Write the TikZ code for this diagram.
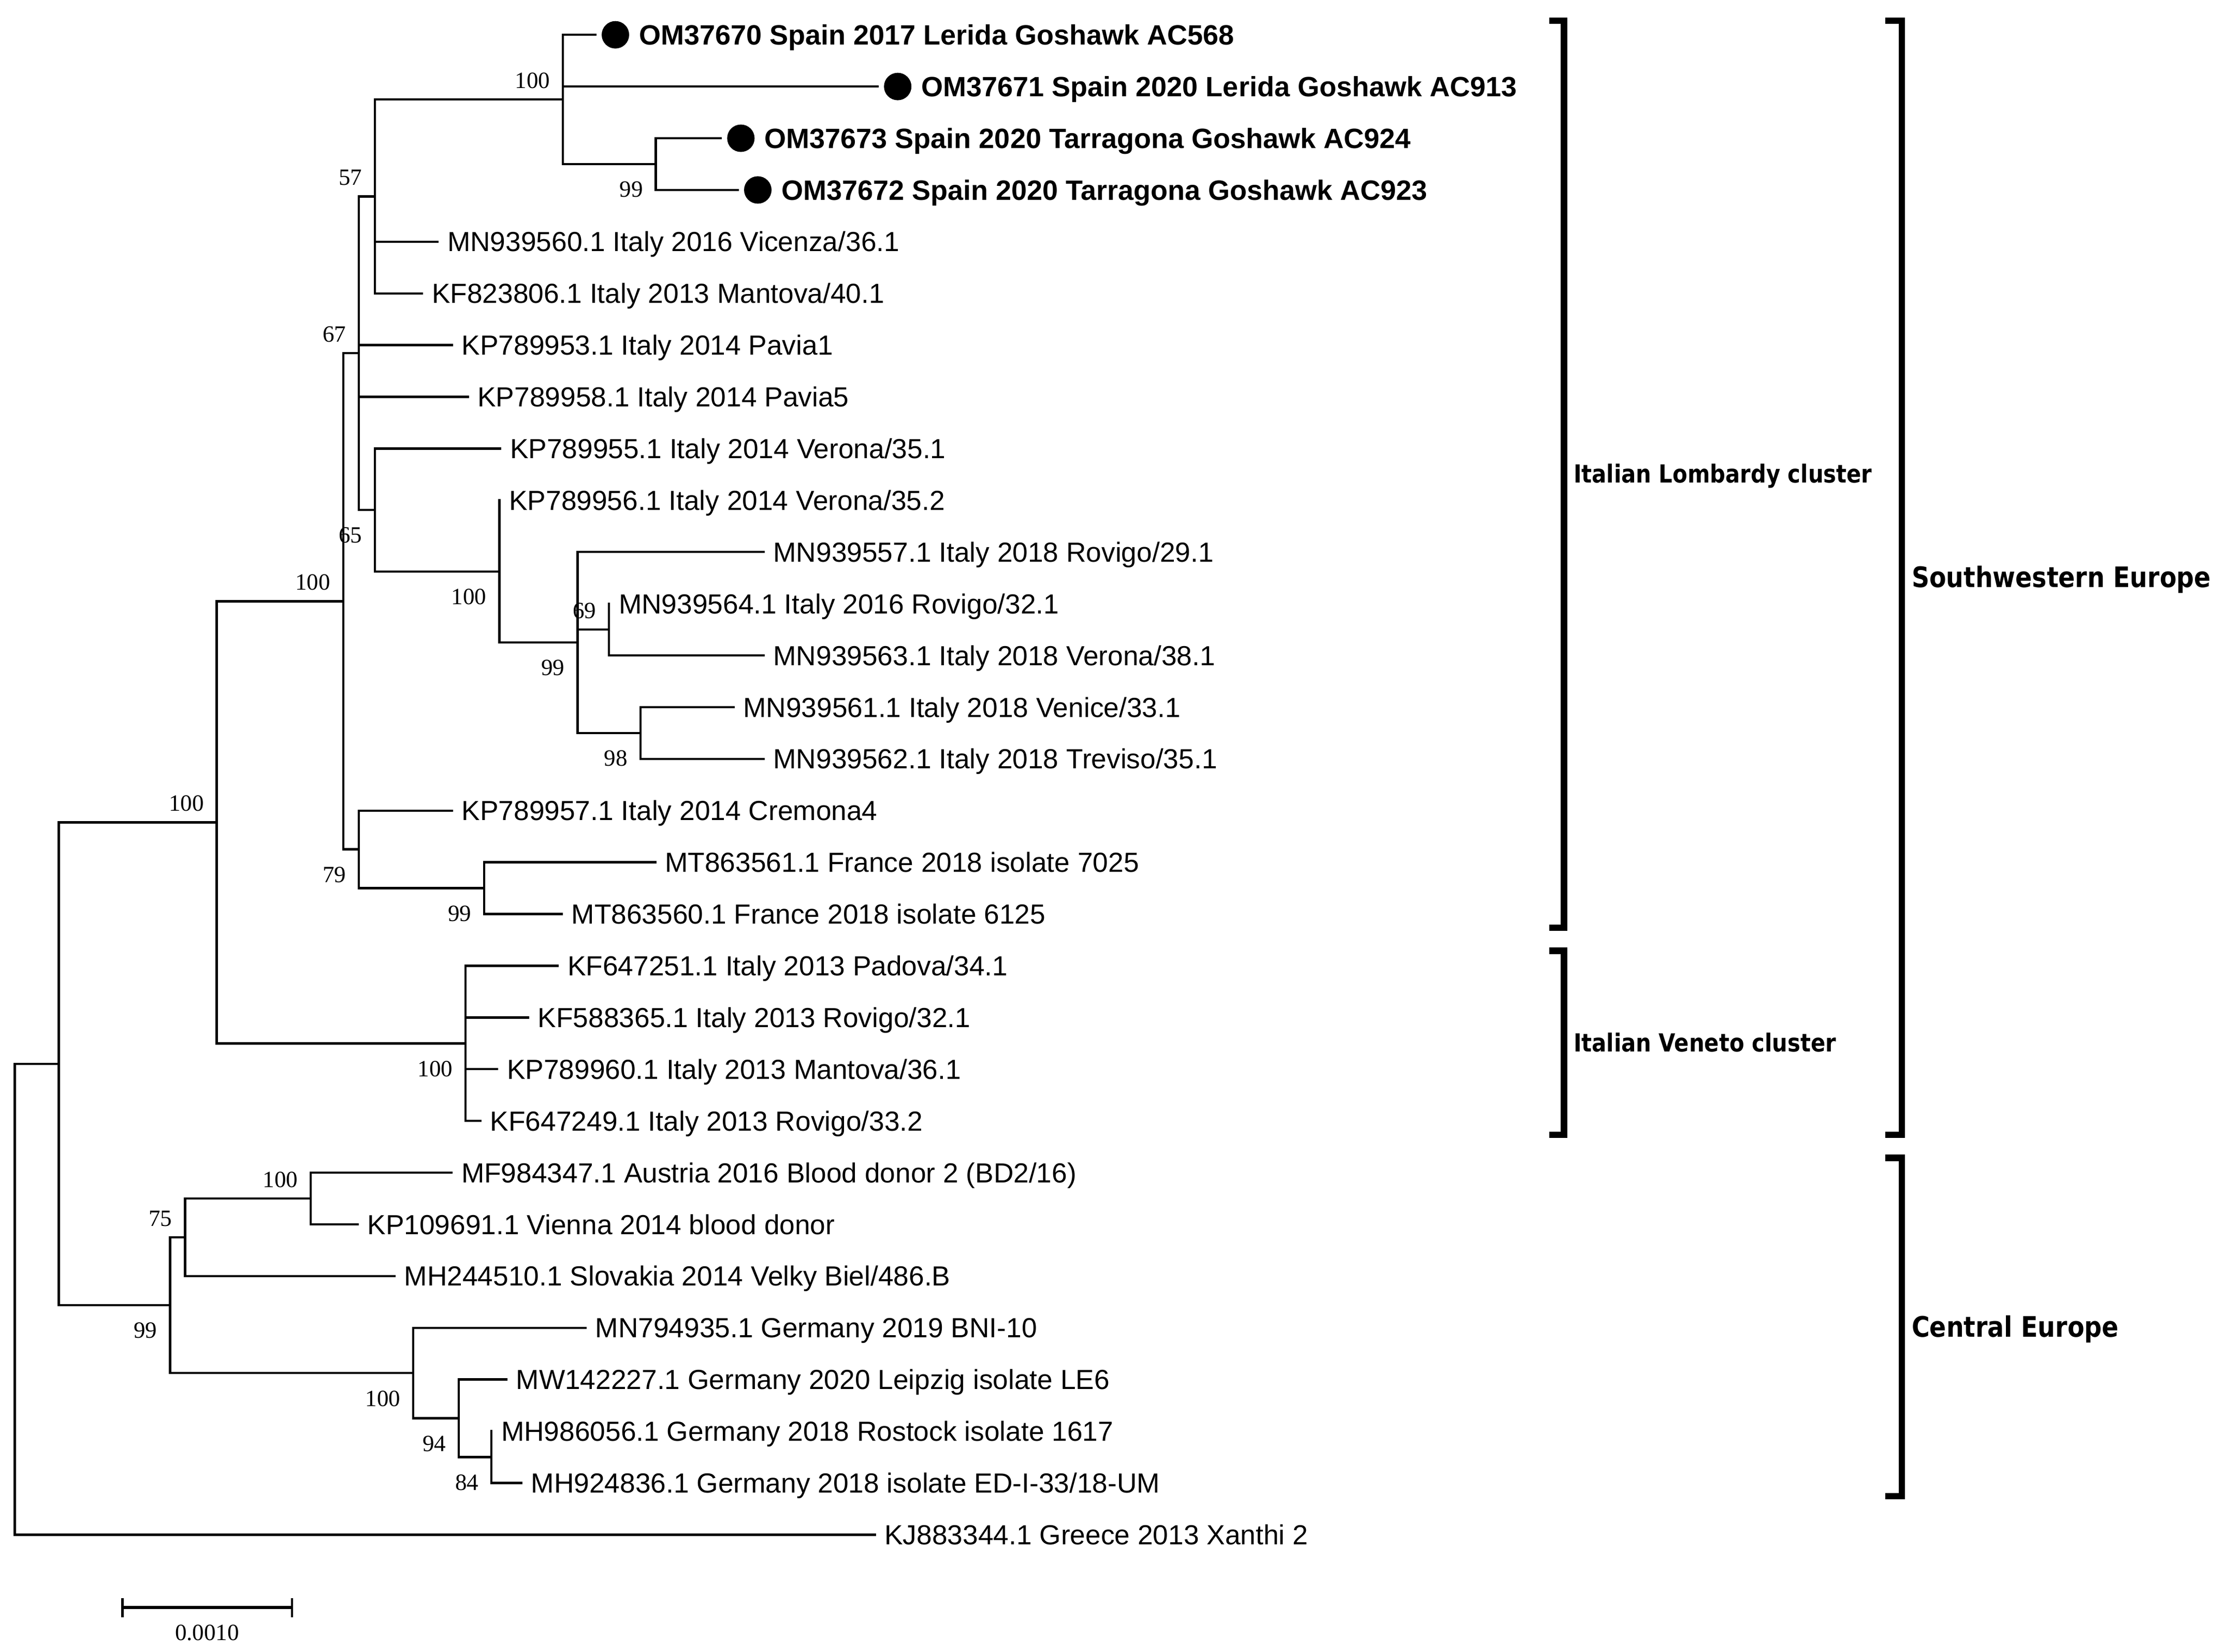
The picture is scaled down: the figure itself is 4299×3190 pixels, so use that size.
\documentclass[tikz,border=0pt]{standalone}
\usepackage{fontspec}
\setmainfont{Liberation Sans}
\newfontfamily\bsfont{Liberation Serif}
\newfontfamily\brfont[FakeStretch=0.87]{DejaVu Sans}
\begin{document}
\begin{tikzpicture}[x=0.2pt,y=-0.2pt,
  br/.style={line width=0.88pt, line cap=rect, line join=miter},
  lab/.style={anchor=base west, inner sep=0pt, xshift=3.6pt, yshift=-3.82pt, font=\fontsize{10.66pt}{12pt}\selectfont},
  blab/.style={anchor=base west, inner sep=0pt, xshift=16.8pt, yshift=-3.86pt, font=\fontsize{10.8pt}{12pt}\selectfont\bfseries},
  dot/.style={circle, fill=black, draw=none, inner sep=0pt, minimum size=10.6pt, xshift=7.8pt},
  bsa/.style={anchor=south east, inner sep=0pt, xshift=-4.8pt, yshift=4pt, font=\bsfont\fontsize{9pt}{10pt}\selectfont},
  bsb/.style={anchor=north east, inner sep=0pt, xshift=-4.8pt, yshift=-6.6pt, font=\bsfont\fontsize{9pt}{10pt}\selectfont},
  bracket/.style={line width=2.5pt, line join=miter, line cap=butt},
  clab/.style={anchor=base west, inner sep=0pt, font=\brfont\bfseries\fontsize{9.6pt}{11pt}\selectfont},
  rlab/.style={anchor=base west, inner sep=0pt, font=\brfont\bfseries\fontsize{10.9pt}{12pt}\selectfont},
  sbar/.style={line width=1.2pt, line cap=butt},
  stick/.style={line width=0.9pt, line cap=butt}
]
\useasboundingbox (0,0) rectangle (4299,3190);

% internal nodes
\coordinate (R) at (28.3,2509.5);
\coordinate (A) at (113.3,2054.65);
\coordinate (SW) at (418.6,1588.3);
\coordinate (LB) at (662.7,1161.4);
\coordinate (N67) at (693,682.2);
\coordinate (N57) at (724,379.4);
\coordinate (SP) at (1087,192.1);
\coordinate (TA) at (1266.6,317.0);
\coordinate (N65) at (724,985.0);
\coordinate (NB) at (964.3,1103.7);
\coordinate (N99) at (1115.3,1241.0);
\coordinate (N69) at (1176,1216.05);
\coordinate (N98) at (1236.7,1415.85);
\coordinate (N79) at (693,1640.6);
\coordinate (FR) at (935.2,1715.55);
\coordinate (VE) at (899.2,2015.25);
\coordinate (CE) at (328.3,2521.0);
\coordinate (N75) at (357.4,2389.9);
\coordinate (NC) at (600,2314.95);
\coordinate (GE) at (798.2,2652.1);
\coordinate (N94) at (886.2,2739.5);
\coordinate (N84) at (949,2814.45);

% leaf ends
\coordinate (L1) at (1149.5,67.2);
\coordinate (L2) at (1694.7,167.1);
\coordinate (L3) at (1391.8,267.0);
\coordinate (L4) at (1424.5,366.9);
\coordinate (L5) at (845,466.8);
\coordinate (L6) at (815,566.7);
\coordinate (L7) at (872.7,666.6);
\coordinate (L8) at (903.4,766.5);
\coordinate (L9) at (966,866.4);
\coordinate (L10) at (964.3,966.3);
\coordinate (L11) at (1474.5,1066.2);
\coordinate (L12) at (1176,1166.1);
\coordinate (L13) at (1474.5,1266.0);
\coordinate (L14) at (1416.4,1365.9);
\coordinate (L15) at (1474.5,1465.8);
\coordinate (L16) at (872.7,1565.7);
\coordinate (L17) at (1265.3,1665.6);
\coordinate (L18) at (1084.7,1765.5);
\coordinate (L19) at (1077,1865.4);
\coordinate (L20) at (1019.7,1965.3);
\coordinate (L21) at (960,2065.2);
\coordinate (L22) at (927.8,2165.1);
\coordinate (L23) at (872,2265.0);
\coordinate (L24) at (690.6,2364.9);
\coordinate (L25) at (761.8,2464.8);
\coordinate (L26) at (1130.6,2564.7);
\coordinate (L27) at (977.6,2664.6);
\coordinate (L28) at (949,2764.5);
\coordinate (L29) at (1006.7,2864.4);
\coordinate (L30) at (1689.3,2964.3);

% branches
\draw[br] (R) |- (A);   \draw[br] (R) |- (L30);
\draw[br] (A) |- (SW);  \draw[br] (A) |- (CE);
\draw[br] (SW) |- (LB); \draw[br] (SW) |- (VE);
\draw[br] (LB) |- (N67); \draw[br] (LB) |- (N79);
\draw[br] (N67) |- (N57); \draw[br] (N67) |- (L7); \draw[br] (N67) |- (L8); \draw[br] (N67) |- (N65);
\draw[br] (N57) |- (SP); \draw[br] (N57) |- (L5); \draw[br] (N57) |- (L6);
\draw[br] (SP) |- (L1); \draw[br] (SP) |- (L2); \draw[br] (SP) |- (TA);
\draw[br] (TA) |- (L3); \draw[br] (TA) |- (L4);
\draw[br] (N65) |- (L9); \draw[br] (N65) |- (NB);
\draw[br] (NB) |- (L10); \draw[br] (NB) |- (N99);
\draw[br] (N99) |- (L11); \draw[br] (N99) |- (N69); \draw[br] (N99) |- (N98);
\draw[br] (N69) |- (L12); \draw[br] (N69) |- (L13);
\draw[br] (N98) |- (L14); \draw[br] (N98) |- (L15);
\draw[br] (N79) |- (L16); \draw[br] (N79) |- (FR);
\draw[br] (FR) |- (L17); \draw[br] (FR) |- (L18);
\draw[br] (VE) |- (L19); \draw[br] (VE) |- (L20); \draw[br] (VE) |- (L21); \draw[br] (VE) |- (L22);
\draw[br] (CE) |- (N75); \draw[br] (CE) |- (GE);
\draw[br] (N75) |- (NC); \draw[br] (N75) |- (L25);
\draw[br] (NC) |- (L23); \draw[br] (NC) |- (L24);
\draw[br] (GE) |- (L26); \draw[br] (GE) |- (N94);
\draw[br] (N94) |- (L27); \draw[br] (N94) |- (N84);
\draw[br] (N84) |- (L28); \draw[br] (N84) |- (L29);

% Spanish leaves with dots
\node[dot] (d1) at (L1) {};
\node[dot] (d2) at (L2) {};
\node[dot] (d3) at (L3) {};
\node[dot] (d4) at (L4) {};
\node[blab] (t1) at (L1) {OM37670 Spain 2017 Lerida Goshawk AC568};
\node[blab] (t2) at (L2) {OM37671 Spain 2020 Lerida Goshawk AC913};
\node[blab] (t3) at (L3) {OM37673 Spain 2020 Tarragona Goshawk AC924};
\node[blab] (t4) at (L4) {OM37672 Spain 2020 Tarragona Goshawk AC923};

% other leaves
\node[lab] (t5) at (L5) {MN939560.1 Italy 2016 Vicenza/36.1};
\node[lab] (t6) at (L6) {KF823806.1 Italy 2013 Mantova/40.1};
\node[lab] (t7) at (L7) {KP789953.1 Italy 2014 Pavia1};
\node[lab] (t8) at (L8) {KP789958.1 Italy 2014 Pavia5};
\node[lab] (t9) at (L9) {KP789955.1 Italy 2014 Verona/35.1};
\node[lab] (t10) at (L10) {KP789956.1 Italy 2014 Verona/35.2};
\node[lab] (t11) at (L11) {MN939557.1 Italy 2018 Rovigo/29.1};
\node[lab] (t12) at (L12) {MN939564.1 Italy 2016 Rovigo/32.1};
\node[lab] (t13) at (L13) {MN939563.1 Italy 2018 Verona/38.1};
\node[lab] (t14) at (L14) {MN939561.1 Italy 2018 Venice/33.1};
\node[lab] (t15) at (L15) {MN939562.1 Italy 2018 Treviso/35.1};
\node[lab] (t16) at (L16) {KP789957.1 Italy 2014 Cremona4};
\node[lab] (t17) at (L17) {MT863561.1 France 2018 isolate 7025};
\node[lab] (t18) at (L18) {MT863560.1 France 2018 isolate 6125};
\node[lab] (t19) at (L19) {KF647251.1 Italy 2013 Padova/34.1};
\node[lab] (t20) at (L20) {KF588365.1 Italy 2013 Rovigo/32.1};
\node[lab] (t21) at (L21) {KP789960.1 Italy 2013 Mantova/36.1};
\node[lab] (t22) at (L22) {KF647249.1 Italy 2013 Rovigo/33.2};
\node[lab] (t23) at (L23) {MF984347.1 Austria 2016 Blood donor 2 (BD2/16)};
\node[lab] (t24) at (L24) {KP109691.1 Vienna 2014 blood donor};
\node[lab] (t25) at (L25) {MH244510.1 Slovakia 2014 Velky Biel/486.B};
\node[lab] (t26) at (L26) {MN794935.1 Germany 2019 BNI-10};
\node[lab] (t27) at (L27) {MW142227.1 Germany 2020 Leipzig isolate LE6};
\node[lab] (t28) at (L28) {MH986056.1 Germany 2018 Rostock isolate 1617};
\node[lab] (t29) at (L29) {MH924836.1 Germany 2018 isolate ED-I-33/18-UM};
\node[lab] (t30) at (L30) {KJ883344.1 Greece 2013 Xanthi 2};

% bootstrap values
\node[bsa] (bSP) at (SP) {100};
\node[bsb] (bTA) at (TA) {99};
\node[bsa] (b57) at (N57) {57};
\node[bsa] (b67) at (N67) {67};
\node[bsb] (b65) at (N65) {65};
\node[bsb] (bNB) at (NB) {100};
\node[bsb] (b99) at (N99) {99};
\node[bsa] (b69) at (N69) {69};
\node[bsb] (b98) at (N98) {98};
\node[bsa] (bLB) at (LB) {100};
\node[bsa] (bSW) at (SW) {100};
\node[bsb] (b79) at (N79) {79};
\node[bsb] (bFR) at (FR) {99};
\node[bsb] (bVE) at (VE) {100};
\node[bsa] (bNC) at (NC) {100};
\node[bsa] (b75) at (N75) {75};
\node[bsb] (bCE) at (CE) {99};
\node[bsb] (bGE) at (GE) {100};
\node[bsb] (b94) at (N94) {94};
\node[bsb] (b84) at (N84) {84};

% brackets
\coordinate (lb1) at (2992,40.2);   \coordinate (lb2) at (3020.4,40.2);
\coordinate (lb3) at (3020.4,1791.8); \coordinate (lb4) at (2992,1791.8);
\draw[bracket] (lb1) -- (lb2) -- (lb3) -- (lb4);
\coordinate (vb1) at (2992,1836.7); \coordinate (vb2) at (3020.4,1836.7);
\coordinate (vb3) at (3020.4,2191.7); \coordinate (vb4) at (2992,2191.7);
\draw[bracket] (vb1) -- (vb2) -- (vb3) -- (vb4);
\coordinate (sb1) at (3640.5,40.2); \coordinate (sb2) at (3672.7,40.2);
\coordinate (sb3) at (3672.7,2191.7); \coordinate (sb4) at (3640.5,2191.7);
\draw[bracket] (sb1) -- (sb2) -- (sb3) -- (sb4);
\coordinate (cb1) at (3640.5,2236.6); \coordinate (cb2) at (3672.7,2236.6);
\coordinate (cb3) at (3672.7,2890); \coordinate (cb4) at (3640.5,2890);
\draw[bracket] (cb1) -- (cb2) -- (cb3) -- (cb4);

\node[clab] (lomb) at (3038,932.5) {Italian Lombardy cluster};
\node[clab] (vene) at (3038,2031) {Italian Veneto cluster};
\node[rlab] (swe) at (3691,1134) {Southwestern Europe};
\node[rlab] (cee) at (3691,2582) {Central Europe};

% scale bar
\coordinate (s1) at (236.5,3105); \coordinate (s2) at (564,3105);
\coordinate (s1a) at (236.5,3086.6); \coordinate (s1b) at (236.5,3123.5);
\coordinate (s2a) at (564,3086.6); \coordinate (s2b) at (564,3123.5);
\draw[sbar] (s1) -- (s2);
\draw[stick] (s1a) -- (s1b);
\draw[stick] (s2a) -- (s2b);
\node[inner sep=0pt, font=\bsfont\fontsize{9pt}{10pt}\selectfont] (sl) at (400,3153.5) {0.0010};
\end{tikzpicture}
\end{document}
